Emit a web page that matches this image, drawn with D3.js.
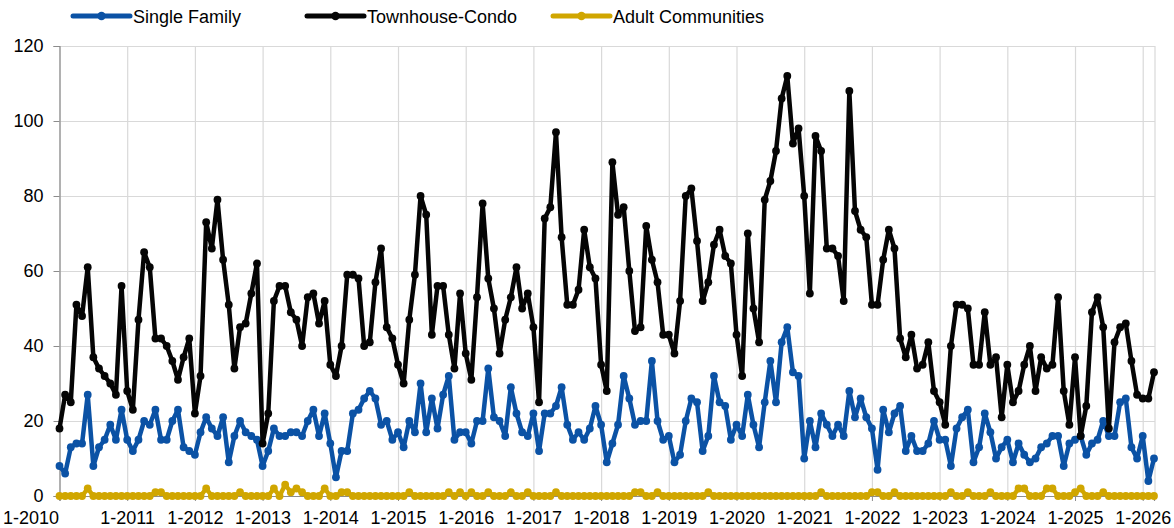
<!DOCTYPE html>
<html>
<head>
<meta charset="utf-8">
<script src="https://cdn.jsdelivr.net/npm/d3@7"></script>
<style>
  body { margin: 0; background: #fff; }
  text { font-family: "Liberation Sans", Arial, sans-serif; }
</style>
</head>
<body>
<svg id="chart" width="1174" height="528"></svg>
<script>
// x tick labels, one every 12 months starting at 1-2010
const tickLabels = ["1-2010", "1-2011", "1-2012", "1-2013", "1-2014", "1-2015", "1-2016", "1-2017",
  "1-2018", "1-2019", "1-2020", "1-2021", "1-2022", "1-2023", "1-2024", "1-2025", "1-2026"];

const yTicks = [0, 20, 40, 60, 80, 100, 120];

// monthly counts, 1-2010 .. 3-2026
const singleFamily = [
  8, 6, 13, 14, 14, 27, 8, 13, 15, 19, 15, 23,
  15, 12, 15, 20, 19, 23, 15, 15, 20, 23, 13, 12,
  11, 17, 21, 18, 16, 21, 9, 16, 20, 17, 16, 15,
  8, 12, 18, 16, 16, 17, 17, 16, 20, 23, 16, 22,
  14, 5, 12, 12, 22, 23, 26, 28, 26, 19, 20, 15,
  17, 13, 20, 17, 30, 17, 26, 18, 27, 32, 15, 17,
  17, 14, 20, 20, 34, 21, 20, 16, 29, 22, 17, 16,
  22, 12, 22, 22, 24, 29, 19, 15, 17, 15, 18, 24,
  19, 9, 14, 19, 32, 26, 19, 20, 20, 36, 20, 15,
  16, 9, 11, 20, 26, 25, 12, 16, 32, 25, 24, 15,
  19, 16, 27, 19, 13, 25, 36, 25, 41, 45, 33, 32,
  10, 20, 13, 22, 19, 16, 19, 16, 28, 21, 26, 21,
  18, 7, 23, 17, 22, 24, 12, 16, 12, 12, 14, 20,
  15, 15, 8, 18, 21, 23, 9, 13, 22, 17, 10, 13,
  15, 9, 14, 11, 9, 10, 13, 14, 16, 16, 8, 14,
  15, 16, 11, 14, 15, 20, 16, 16, 25, 26, 13, 10,
  16, 4, 10
];

const townhouseCondo = [
  18, 27, 25, 51, 48, 61, 37, 34, 32, 30, 27, 56,
  28, 23, 47, 65, 61, 42, 42, 40, 36, 31, 37, 42,
  22, 32, 73, 66, 79, 63, 51, 34, 45, 46, 54, 62,
  14, 22, 52, 56, 56, 49, 47, 40, 53, 54, 46, 52,
  35, 32, 40, 59, 59, 58, 40, 41, 57, 66, 45, 42,
  35, 30, 47, 59, 80, 75, 43, 56, 56, 43, 34, 54,
  38, 31, 53, 78, 58, 50, 38, 47, 53, 61, 50, 54,
  45, 25, 74, 77, 97, 69, 51, 51, 55, 71, 61, 58,
  35, 28, 89, 75, 77, 60, 44, 45, 72, 63, 57, 43,
  43, 38, 52, 80, 82, 68, 52, 57, 67, 71, 64, 62,
  43, 32, 70, 50, 41, 79, 84, 92, 106, 112, 94, 98,
  80, 54, 96, 92, 66, 66, 64, 52, 108, 76, 71, 69,
  51, 51, 63, 71, 66, 42, 37, 43, 34, 35, 41, 28,
  25, 19, 40, 51, 51, 50, 35, 35, 49, 35, 37, 21,
  35, 25, 28, 35, 40, 28, 37, 34, 35, 53, 28, 19,
  37, 16, 24, 49, 53, 45, 18, 41, 45, 46, 36, 27,
  26, 26, 33
];

const adultCommunities = [
  0, 0, 0, 0, 0, 2, 0, 0, 0, 0, 0, 0,
  0, 0, 0, 0, 0, 1, 1, 0, 0, 0, 0, 0,
  0, 0, 2, 0, 0, 0, 0, 0, 1, 0, 0, 0,
  0, 0, 2, 0, 3, 1, 2, 1, 0, 0, 0, 2,
  0, 0, 1, 1, 0, 0, 0, 0, 0, 0, 0, 0,
  0, 0, 1, 0, 0, 0, 0, 0, 0, 1, 0, 1,
  0, 1, 0, 0, 1, 0, 0, 0, 1, 0, 0, 1,
  0, 0, 0, 0, 1, 0, 0, 0, 0, 0, 0, 0,
  0, 0, 0, 0, 0, 0, 1, 1, 0, 0, 1, 0,
  0, 0, 0, 0, 0, 0, 0, 1, 0, 0, 0, 0,
  0, 0, 0, 0, 0, 0, 0, 0, 0, 0, 0, 0,
  0, 0, 0, 1, 0, 0, 0, 0, 0, 0, 0, 0,
  1, 1, 0, 0, 1, 0, 0, 0, 0, 0, 0, 0,
  0, 0, 1, 0, 0, 1, 0, 0, 0, 1, 0, 0,
  0, 0, 2, 2, 0, 0, 0, 2, 2, 0, 0, 0,
  1, 2, 0, 0, 0, 1, 0, 0, 0, 0, 0, 0,
  0, 0, 0
];

const seriesNames = ["Single Family", "Townhouse-Condo", "Adult Communities"];
const seriesColors = ["#0b52a5", "#050505", "#d0a600"];
const seriesValues = [singleFamily, townhouseCondo, adultCommunities];

const svg = d3.select("#chart");

const plotLeft = 59.5, plotRight = 1155, plotTop = 46, plotBottom = 496;

const x = d3.scaleLinear()
  .domain([0, singleFamily.length - 1])
  .range([plotLeft, 1154]);

const y = d3.scaleLinear()
  .domain([0, 120])
  .range([plotBottom, plotTop]);

const tickIdx = tickLabels.map((d, i) => i * 12);

// horizontal gridlines
svg.append("g")
  .attr("transform", `translate(${plotLeft},0)`)
  .call(d3.axisLeft(y).tickValues(yTicks).tickSize(-(plotRight - plotLeft)).tickFormat(""))
  .call(g => g.select(".domain").remove())
  .selectAll("line").attr("stroke", "#d9d9d9").attr("stroke-width", 1.2);

// vertical gridlines
svg.append("g")
  .attr("transform", `translate(0,${plotBottom})`)
  .call(d3.axisBottom(x).tickValues(tickIdx).tickSize(-(plotBottom - plotTop)).tickFormat(""))
  .call(g => g.select(".domain").remove())
  .selectAll("line").attr("stroke", "#d9d9d9").attr("stroke-width", 1.2);

// right border
svg.append("line")
  .attr("x1", plotRight).attr("x2", plotRight)
  .attr("y1", plotTop).attr("y2", plotBottom)
  .attr("stroke", "#d9d9d9").attr("stroke-width", 1.2);

// y axis
const yAxis = svg.append("g")
  .attr("transform", `translate(${plotLeft},0)`)
  .call(d3.axisLeft(y).tickValues(yTicks).tickSize(6).tickPadding(10));
yAxis.select(".domain").attr("stroke", "#8c8c8c").attr("stroke-width", 1.2);
yAxis.selectAll("line").attr("stroke", "#8c8c8c");
yAxis.selectAll("text")
  .style("font-family", "'Liberation Sans', Arial, sans-serif")
  .style("font-size", "18px").attr("fill", "#000");

// x axis
const xAxis = svg.append("g")
  .attr("transform", `translate(0,${plotBottom})`)
  .call(d3.axisBottom(x).tickValues(tickIdx).tickSize(5).tickPadding(10)
    .tickFormat((d, i) => tickLabels[i]));
xAxis.select(".domain").attr("stroke", "#8c8c8c").attr("stroke-width", 1.2);
xAxis.selectAll("line").attr("stroke", "#8c8c8c");
xAxis.selectAll("text")
  .style("font-family", "'Liberation Sans', Arial, sans-serif")
  .style("font-size", "18px").attr("fill", "#000");
// first label sits pulled left, as in the original
xAxis.selectAll("text").filter((d, i) => i === 0)
  .attr("text-anchor", "start").attr("x", -57);

// series lines + markers
const line = d3.line().x((d, i) => x(i)).y(d => y(d));

seriesValues.forEach((vals, s) => {
  const g = svg.append("g");
  g.append("path")
    .datum(vals)
    .attr("fill", "none")
    .attr("stroke", seriesColors[s])
    .attr("stroke-width", 4.5)
    .attr("stroke-linejoin", "round")
    .attr("d", line);
  g.selectAll("circle")
    .data(vals)
    .join("circle")
    .attr("cx", (d, i) => x(i))
    .attr("cy", d => y(d))
    .attr("r", 3.9)
    .attr("fill", seriesColors[s]);
});

// legend
const legendX = [73, 307, 553];
const legend = svg.append("g");
seriesNames.forEach((name, s) => {
  const lg = legend.append("g").attr("transform", `translate(${legendX[s]},16)`);
  lg.append("line")
    .attr("x1", 0).attr("x2", 57)
    .attr("stroke", seriesColors[s]).attr("stroke-width", 5)
    .attr("stroke-linecap", "round");
  lg.append("circle").attr("cx", 28.5).attr("r", 4.2).attr("fill", seriesColors[s]);
  lg.append("text")
    .attr("x", 60).attr("y", 6.5)
    .style("font-size", "18px")
    .text(name);
});
</script>
</body>
</html>
